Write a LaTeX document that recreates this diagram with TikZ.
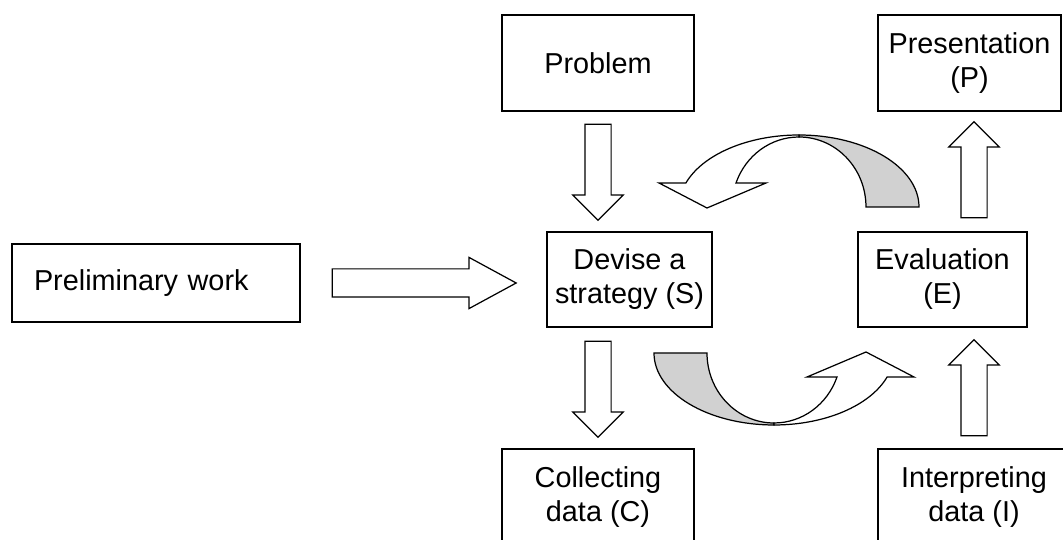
\documentclass[tikz,border=0pt]{standalone}
\usepackage{fontspec}
\setmainfont{Liberation Sans}
\usetikzlibrary{positioning, calc, shapes.arrows}
\definecolor{bandgray}{gray}{0.82}

\begin{document}
\begin{tikzpicture}[
        x=0.02cm, y=0.02cm,
        font=\fontsize{16.4}{19.4}\selectfont,
        box/.style = {draw, black, line width=0.7pt, align=center, inner sep=2pt},
        wide/.style = {box, minimum width=3.84cm, minimum height=1.92cm},
        mid/.style = {box, minimum width=3.38cm, minimum height=1.9cm},
        barrow/.style = {single arrow, draw, black, fill=white, line width=0.7pt, inner xsep=0pt, inner ysep=0.25cm,
            minimum height=1.92cm, minimum width=0.98cm, single arrow head extend=0.24cm, single arrow tip angle=90,
            anchor=tail},
        ribbon/.pic = {
            \draw[line width=0.7pt, fill=bandgray] (120,0) arc[start angle=0, end angle=90, x radius=2.4cm, y radius=1.44cm]
                -- (0,70) arc[start angle=90, end angle=0, x radius=1.34cm, y radius=1.4cm] -- cycle;
            \draw[line width=0.7pt, fill=white] (0,72) arc[start angle=90, end angle=160.53, x radius=2.4cm, y radius=1.44cm]
                -- (-140,24) -- (-92,-1) -- (-33,24) -- (-63,24)
                arc[start angle=159.95, end angle=90, x radius=1.34cm, y radius=1.4cm] -- cycle;
        }
    ]
        \clip (0,0) rectangle (1063,540);
        \node[wide] (prob) at (598,477) {Problem};
        \node[wide, minimum width=3.66cm] (pres) at (969.5,477) {Presentation\\(P)};
        \node[box, minimum height=1.56cm, text width=4.88cm, align=left, inner xsep=0.44cm] (prelim) at (156,257) {Preliminary work};
        \node[mid, minimum width=3.3cm] (dev) at (629.5,260.5) {Devise a\\strategy (S)};
        \node[mid] (eval) at (942.5,260.5) {Evaluation\\(E)};
        \node[wide] (coll) at (598,43) {Collecting\\data (C)};
        \node[wide] (interp) at (974,43) {Interpreting\\data (I)};

        \node[barrow, rotate=-90] (a1) at ($(prob.south)+(0,-12)$) {};
        \node[barrow, rotate=-90] (a2) at ($(coll.north |- dev.south)+(0,-13)$) {};
        \node[barrow, rotate=90] (a3) at ($(interp.north |- eval.north)+(0,13)$) {};
        \node[barrow, rotate=90] (a4) at ($(interp.north)+(0,12)$) {};
        \node[barrow, minimum height=3.68cm, minimum width=1.0cm, inner ysep=0.27cm, single arrow head extend=0.23cm,
            single arrow tip angle=57] (a5) at ($(prelim.east)+(31,0)$) {};

        \pic at (799,333) {ribbon};
        \pic[rotate=180] at (774,187) {ribbon};
    \end{tikzpicture}
\end{document}
